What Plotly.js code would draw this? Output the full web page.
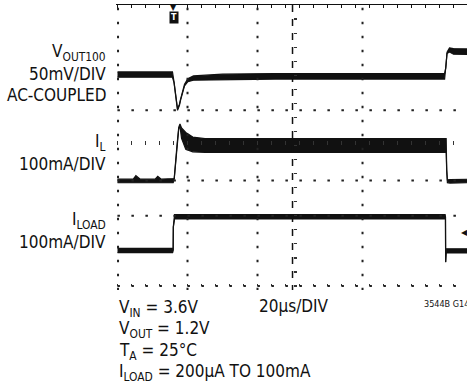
<!DOCTYPE html>
<html>
<head>
<meta charset="utf-8">
<script src="https://cdn.plot.ly/plotly-3.0.1.min.js"></script>
<style>
html,body{margin:0;padding:0;background:#fff;}
#chart{width:467px;height:383px;}
</style>
</head>
<body>
<div id="chart"></div>
<script>
// ---------- data (time in µs, 20 µs/DIV) ----------
// V_OUT (AC-coupled, mV), 50 mV/DIV
const voutTime  = [0, 31.4, 32.3, 33.4, 34.3, 35.4, 36.0, 38.3, 40.2, 43.4, 60, 90, 186.9, 187.6, 188.3, 189.7, 192, 200];
const voutMV    = [1, 1, -10, -35, -49, -42, -35, -14, -7, -4, -2.5, -1.5, -1.5, 10, 32, 36, 34, 33.5];
const voutNoise = [3.8, 3.8, 0.6, 0.6, 1, 0.8, 0.8, 1.2, 2.2, 3, 4, 4, 4, 0.6, 1, 3, 4, 4];

// Inductor current I_L (mA), 100 mA/DIV
const ilTime  = [0, 9, 10.5, 13, 21.5, 23, 25, 31.8, 32.4, 34.0, 35.0, 35.7, 36.6, 39.0, 43, 50, 187.8, 188.1, 188.5, 190, 200];
const ilMA    = [-1, -1, 5, -1, -1, 4, -1, -1, 5, 100, 150, 158, 135, 113, 103, 100, 100, 30, -2, -2, -1];
const ilRipple= [5, 5, 9, 5, 5, 8, 5, 5, 1, 1.5, 2, 3, 15, 24, 21, 19.5, 19.5, 1, 4, 5, 5];

// Load current I_LOAD (mA), 100 mA/DIV
const iloadTime  = [0, 31.5, 31.8, 31.9, 32.6, 187.2, 187.4, 187.5, 187.8, 200];
const iloadMA    = [1, 1, 1, 68, 97, 97, 97, -32, 0, 0];
const iloadNoise = [6, 6, 0.5, 0.5, 6, 6, 0.5, 0.5, 6, 6];

// channel scales and screen offsets (divisions from bottom)
const channels = [
  {t: voutTime,  v: voutMV,  n: voutNoise,  perDiv: 50,  offset: 6},
  {t: ilTime,    v: ilMA,    n: ilRipple,   perDiv: 100, offset: 3},
  {t: iloadTime, v: iloadMA, n: iloadNoise, perDiv: 100, offset: 1}
];
const triggerTime = [32];

// ---------- layout geometry ----------
const L = 116, T = 5, WIDTH = 467, HEIGHT = 383;
const PW = WIDTH - L, PH = 285;
const B = HEIGHT - T - PH;
const XR = [-0.86, 199.7], YR = [-0.114, 8];
function P(px, py){ return {x: (px - L) / PW, y: (T + PH - py) / PH}; }
function xf(t){ return (t - XR[0]) / (XR[1] - XR[0]); }
function yf(d){ return (d - YR[0]) / (YR[1] - YR[0]); }

const FONT = '"Liberation Sans Narrow", "DejaVu Sans Condensed", "Arial Narrow", sans-serif';
const INK = '#111';

const traces = [];
channels.forEach(ch => {
  const lo = ch.v.map((v, i) => ch.offset + (v - ch.n[i]) / ch.perDiv);
  const hi = ch.v.map((v, i) => ch.offset + (v + ch.n[i]) / ch.perDiv);
  traces.push({x: ch.t, y: lo, type: 'scatter', mode: 'lines', line: {color: INK, width: 1.2}, hoverinfo: 'skip', showlegend: false});
  traces.push({x: ch.t, y: hi, type: 'scatter', mode: 'lines', fill: 'tonexty', fillcolor: INK, line: {color: INK, width: 1.2}, hoverinfo: 'skip', showlegend: false});
});

// graticule (decoration): dotted columns/rows and dashed centre column
const gridCol = '#222';
const DOTS = '2.5px,11.5px';
const shapes = [];
[0.3, 40, 80, 140].forEach(t => shapes.push({type: 'line', layer: 'above', xref: 'x', yref: 'paper', x0: t, x1: t, y0: 0.99, y1: 0,
  line: {color: gridCol, width: 2, dash: DOTS}}));
[0, 2, 3, 5].forEach(d => shapes.push({type: 'line', layer: 'above', xref: 'paper', yref: 'y', x0: 0.004, x1: 1, y0: d, y1: d,
  line: {color: gridCol, width: 2, dash: DOTS}}));
shapes.push({type: 'line', layer: 'above', xref: 'x', yref: 'paper', x0: 100, x1: 100, y0: 1, y1: 0,
  line: {color: INK, width: 1.5, dash: '7px,7px'}});

const layout = {
  width: WIDTH, height: HEIGHT,
  margin: {l: L, r: 0, t: T, b: B, pad: 0},
  paper_bgcolor: '#fff', plot_bgcolor: '#fff',
  showlegend: false,
  shapes: shapes,
  xaxis: {range: XR, side: 'top', showline: true, linecolor: INK, linewidth: 1.2,
          ticks: 'inside', tick0: 0, dtick: 8, ticklen: 3, tickcolor: INK, tickwidth: 1.2,
          showticklabels: false, showgrid: false, zeroline: false, fixedrange: true},
  xaxis4: {range: XR, overlaying: 'x', anchor: 'free', position: yf(4), ticks: 'inside', tick0: 0, dtick: 8,
           ticklen: 4, tickcolor: '#333', tickwidth: 1.3, showticklabels: false, showgrid: false, zeroline: false, showline: false},
  xaxis5: {range: XR, overlaying: 'x', anchor: 'free', position: yf(0), ticks: 'inside', tick0: 0, dtick: 8,
           ticklen: 2, tickcolor: '#333', tickwidth: 1.2, showticklabels: false, showgrid: false, zeroline: false, showline: false},
  yaxis: {range: YR, ticks: '', showticklabels: false, showgrid: false, zeroline: false, showline: false, fixedrange: true},
  yaxis2: {range: YR, overlaying: 'y', anchor: 'free', position: xf(100), side: 'left', ticks: 'inside', tick0: 0, dtick: 0.4,
           ticklen: 3, tickcolor: '#333', tickwidth: 1.2, showticklabels: false, showgrid: false, zeroline: false, showline: false},
  annotations: []
};

// empty traces so the overlay axes are attached to the plot
['x4','x5'].forEach(a => traces.push({x: [], y: [], xaxis: a, yaxis: 'y', type: 'scatter', showlegend: false}));
traces.push({x: [], y: [], xaxis: 'x', yaxis: 'y2', type: 'scatter', showlegend: false});

function label(text, px, py, anchor, size){
  const p = P(px, py);
  layout.annotations.push({text: text, xref: 'paper', yref: 'paper', x: p.x, y: p.y,
    xanchor: anchor, yanchor: 'middle', showarrow: false, align: anchor,
    font: {family: FONT, size: size || 17, color: INK}});
}
// channel labels
label('V<sub>OUT100</sub>', 108, 53, 'right');
label('50mV/DIV', 108, 74, 'right');
label('AC-COUPLED', 108, 95, 'right');
label('I<sub>L</sub>', 108, 142, 'right');
label('100mA/DIV', 108, 164, 'right');
label('I<sub>LOAD</sub>', 108, 220.5, 'right');
label('100mA/DIV', 108, 242, 'right');
// conditions
label('V<sub>IN</sub> = 3.6V', 117, 308, 'left');
label('20µs/DIV', 257, 306, 'left');
label('V<sub>OUT</sub> = 1.2V', 117, 329, 'left');
label('T<sub>A</sub> = 25°C', 117, 351, 'left');
label('I<sub>LOAD</sub> = 200µA TO 100mA', 117, 372, 'left');
label('3544B G14', 422, 304, 'left', 9);

// trigger marker and channel marker
layout.annotations.push({text: '▼', xref: 'x', yref: 'paper', x: triggerTime[0], y: 1, yanchor: 'middle', yshift: -2,
  showarrow: false, font: {family: 'DejaVu Sans', size: 8, color: INK}});
layout.annotations.push({text: '<b>T</b>', xref: 'x', yref: 'paper', x: triggerTime[0], y: 1, yanchor: 'top', yshift: -6,
  showarrow: false, bgcolor: INK, borderpad: 1, font: {family: 'DejaVu Sans', size: 8, color: '#fff'}});
const m = P(464, 232);
layout.annotations.push({text: '◀', xref: 'paper', yref: 'paper', x: m.x, y: m.y, xanchor: 'center', yanchor: 'middle',
  showarrow: false, font: {family: 'DejaVu Sans', size: 8, color: INK}});

Plotly.newPlot('chart', traces, layout, {staticPlot: true, displayModeBar: false});
</script>
</body>
</html>
